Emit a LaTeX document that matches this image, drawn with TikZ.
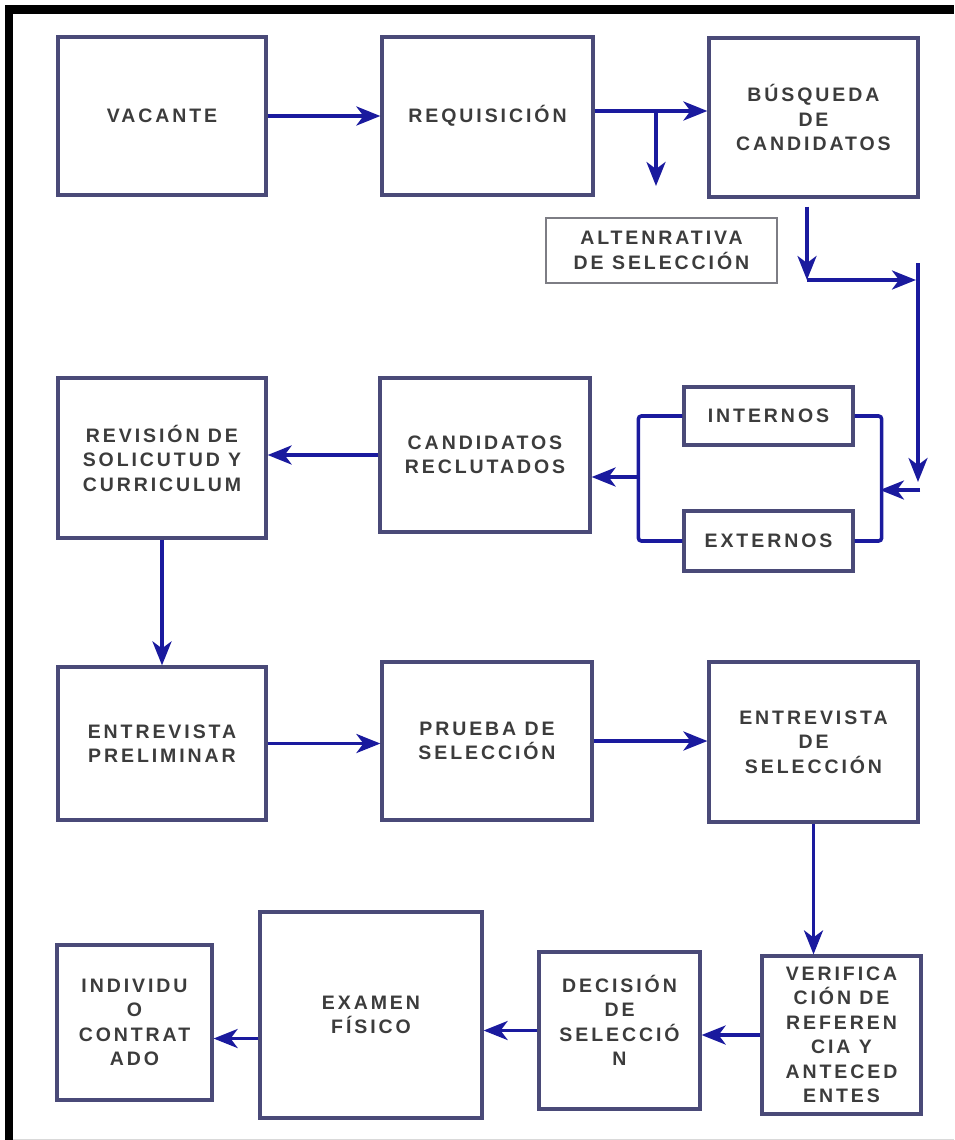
\documentclass[tikz,border=0pt]{standalone}
\usepackage{fontspec}
\usepackage{tikz}
\usetikzlibrary{calc, positioning, arrows.meta}
\newfontfamily\boxfont[LetterSpace=15]{Liberation Sans}
\definecolor{boxLine}{RGB}{74, 74, 120}
\definecolor{altLine}{RGB}{125, 125, 132}
\definecolor{flowArrow}{RGB}{26, 26, 158}
\definecolor{boxText}{RGB}{60, 60, 60}

\begin{document}
\begin{tikzpicture}[x=1pt, y=-1pt,
  stage/.style={draw=boxLine, line width=3.2pt, align=center, text=boxText,
    font=\boxfont\bfseries\fontsize{19.5}{24.5}\selectfont, inner sep=0pt},
  flow/.style={-{Stealth[length=24pt, width=19pt, inset=7pt]}, flowArrow, line width=3.6pt},
  link/.style={flowArrow, line width=3.6pt, rounded corners=3pt}]
  \useasboundingbox (0,0) rectangle (954,1140);

  % frame
  \fill[black] (5,5) rectangle (954,14);
  \fill[black] (5,5) rectangle (13,1140);
  \draw[black!15, line width=1pt] (13,1139) -- (954,1139);

  % first row
  \node[stage, minimum width=208pt, minimum height=158pt] (vac) at (162,116) {VACANTE};
  \node[stage, minimum width=211pt, minimum height=158pt] (req) at (487.5,116) {REQUISICIÓN};
  \node[stage, minimum width=209pt, minimum height=159pt] (bus) at (813.5,117.5) {BÚSQUEDA\\DE\\CANDIDATOS};
  \node[stage, draw=altLine, line width=2.4pt, minimum width=231pt, minimum height=65pt] (alt) at (661.5,250.5) {ALTENRATIVA\\DE SELECCIÓN};

  % second row
  \node[stage, minimum width=208pt, minimum height=160pt] (rev) at (162,458) {REVISIÓN DE\\SOLICUTUD Y\\CURRICULUM};
  \node[stage, minimum width=210pt, minimum height=154pt] (cand) at (485,455) {CANDIDATOS\\RECLUTADOS};
  \node[stage, minimum width=169pt, minimum height=58pt] (int) at (768.5,416) {INTERNOS};
  \node[stage, minimum width=169pt, minimum height=60pt] (ext) at (768.5,541) {EXTERNOS};

  % third row
  \node[stage, minimum width=208pt, minimum height=153pt] (pre) at (162,743.5) {ENTREVISTA\\PRELIMINAR};
  \node[stage, minimum width=210pt, minimum height=158pt] (pru) at (487,741) {PRUEBA DE\\SELECCIÓN};
  \node[stage, minimum width=209pt, minimum height=160pt] (ent) at (813.5,742) {ENTREVISTA\\DE\\SELECCIÓN};

  % fourth row
  \node[stage, minimum width=159pt, minimum height=158pt] (ver) at (841.5,1035) {VERIFICA\\CIÓN DE\\REFEREN\\CIA Y\\ANTECED\\ENTES};
  \node[stage, minimum width=161pt, minimum height=157pt] (dec) at (619.5,1030.5) {DECISIÓN\\DE\\SELECCIÓ\\N\\[-4.5pt]};
  \node[stage, minimum width=222pt, minimum height=206pt] (exa) at (371,1015) {EXAMEN\\FÍSICO};
  \node[stage, minimum width=155pt, minimum height=155pt] (ind) at (134.5,1022.5) {INDIVIDU\\O\\CONTRAT\\ADO};

  % helper points
  \coordinate (reqout) at ([yshift=5pt]req.east);
  \coordinate (split) at (656,111);
  \coordinate (altdrop) at (656,186);
  \coordinate (busdrop) at (807,280);
  \coordinate (railtop) at (918,263);
  \coordinate (railend) at (918,482);
  \coordinate (railfoot) at (920,490);
  \coordinate (gather) at (640,477);

  % connectors, top
  \draw[flow] (vac.east) -- (req.west);
  \draw[flow] (reqout) -- (reqout -| bus.west);
  \draw[flow] (split) -- (altdrop);
  \draw[flow] ([yshift=-8pt]bus.south -| busdrop) -- (busdrop);
  \draw[flow] (busdrop) -- ([xshift=-2pt]busdrop -| railtop);
  \draw[flow] (railtop) -- (railend);
  \draw[flow] (railfoot) -- (railfoot -| 880,0);

  % internos / externos
  \draw[link] (int.east) -- ++(27,0) |- (ext.east);
  \draw[link] (int.west) -- ++(-44,0) |- (ext.west);
  \draw[flow] (gather) -- (gather -| cand.east);

  % middle
  \draw[flow] (cand.west) -- (cand.west -| rev.east);
  \draw[flow] (rev.south) -- (pre.north);
  \draw[flow] (pre.east) -- (pre.east -| pru.west);
  \draw[flow] (pru.east) -- (pru.east -| ent.west);
  \draw[flow] (ent.south) -- (ent.south |- ver.north);

  % bottom
  \draw[flow] (ver.west) -- (ver.west -| dec.east);
  \draw[flow] (dec.west) -- (dec.west -| exa.east);
  \draw[flow] ([yshift=-8pt]exa.west |- dec.west) -- ([yshift=-8pt]ind.east |- dec.west);
\end{tikzpicture}
\end{document}
